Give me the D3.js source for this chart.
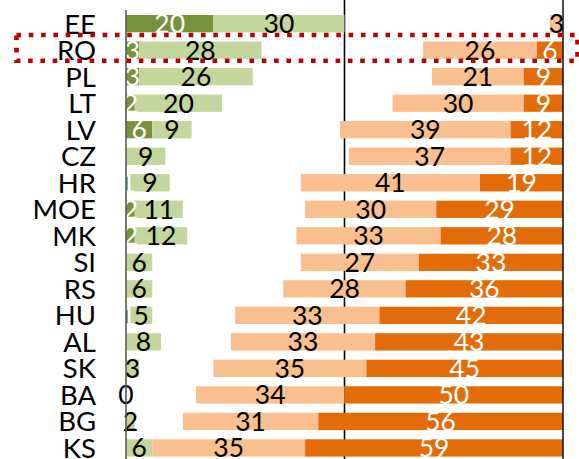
<!DOCTYPE html>
<html>
<head>
<meta charset="utf-8">
<script src="https://cdn.jsdelivr.net/npm/d3@7"></script>
<style>
    html, body { margin: 0; padding: 0; background: #fff; }
    .chart text { font-family: Lato, 'Noto Sans', sans-serif; }
</style>
</head>
<body>
<div class="chart"></div>
<script>
const categories = ['EE', 'RO', 'PL', 'LT', 'LV', 'CZ', 'HR', 'MOE', 'MK', 'SI', 'RS', 'HU', 'AL', 'SK', 'BA', 'BG', 'KS'];
// null = no segment and no label
const strongYes = [20, 3, 3, 2, 6, null, 1, 2, 2, null, null, 1, null, null, null, null, null];
const ratherYes = [30, 28, 26, 20, 9, 9, 9, 11, 12, 6, 6, 5, 8, 3, 0, 2, 6];
const ratherNo = [3, 26, 21, 30, 39, 37, 41, 30, 33, 27, 28, 33, 33, 35, 34, 31, 35];
const strongNo = [null, 6, 9, 9, 12, 12, 19, 29, 28, 33, 36, 42, 43, 45, 50, 56, 59];
const highlighted = 'RO';

(function () {
    const width = 579;
    const height = 459;

    let svg = d3.select('.chart').append('svg')
        .attr('width', width)
        .attr('height', height);

    let x = d3.scaleLinear().domain([0, 100]).range([126, 563]);
    let y = d3.scaleBand()
        .domain(categories)
        .range([15, 456.6])
        .paddingInner(0.348)
        .paddingOuter(0);

    // green stacks from the left, orange stacks from the right
    let segments = [];
    categories.forEach(function (cat, i) {
        let a = strongYes[i] || 0;
        let b = ratherYes[i] || 0;
        let d = strongNo[i] || 0;
        let c = ratherNo[i] || 0;
        segments.push({ cat: cat, v: strongYes[i], x0: 0, x1: a, fill: '#77933c', text: '#fff' });
        segments.push({ cat: cat, v: ratherYes[i], x0: a, x1: a + b, fill: '#c3d69b', text: '#000' });
        segments.push({ cat: cat, v: ratherNo[i], x0: 100 - d - c, x1: 100 - d, fill: '#f9bf8f', text: '#000' });
        segments.push({ cat: cat, v: strongNo[i], x0: 100 - d, x1: 100, fill: '#e36c09', text: '#fff' });
    });
    segments = segments.filter(s => s.v !== null);

    // middle reference line sits behind the bars
    svg.append('line')
        .attr('x1', x(50)).attr('x2', x(50))
        .attr('y1', 0).attr('y2', height)
        .attr('stroke', '#000')
        .attr('stroke-width', 1.6);

    svg.append('g')
        .selectAll('rect')
        .data(segments.filter(s => s.x1 > s.x0))
        .join('rect')
        .attr('x', s => x(s.x0))
        .attr('y', s => y(s.cat))
        .attr('width', s => x(s.x1) - x(s.x0))
        .attr('height', y.bandwidth())
        .attr('fill', s => s.fill);

    svg.append('g')
        .selectAll('text')
        .data(segments)
        .join('text')
        .attr('x', s => x((s.x0 + s.x1) / 2))
        .attr('y', s => y(s.cat) + y.bandwidth() / 2)
        .attr('dy', '0.36em')
        .attr('text-anchor', 'middle')
        .attr('font-size', 26.5)
        .attr('fill', s => s.text)
        .text(s => s.v);

    // category labels
    svg.append('g')
        .selectAll('text')
        .data(categories)
        .join('text')
        .attr('x', 96)
        .attr('y', c => y(c) + y.bandwidth() / 2)
        .attr('dy', '0.36em')
        .attr('text-anchor', 'end')
        .attr('font-size', 27.5)
        .attr('fill', '#000')
        .text(c => c);

    svg.append('line')
        .attr('x1', x(0)).attr('x2', x(0))
        .attr('y1', 10).attr('y2', height)
        .attr('stroke', '#595959')
        .attr('stroke-width', 1.6);
    svg.append('line')
        .attr('x1', x(100)).attr('x2', x(100))
        .attr('y1', 0).attr('y2', height)
        .attr('stroke', '#000')
        .attr('stroke-width', 1.4);

    // dotted box round the highlighted row
    svg.append('rect')
        .attr('x', 16.5)
        .attr('y', y(highlighted) - 6.5)
        .attr('width', 561)
        .attr('height', y.bandwidth() + 8.5)
        .attr('fill', 'none')
        .attr('stroke', '#c00000')
        .attr('stroke-width', 4.6)
        .attr('stroke-dasharray', '4.6 7.7');
})();
</script>
</body>
</html>
